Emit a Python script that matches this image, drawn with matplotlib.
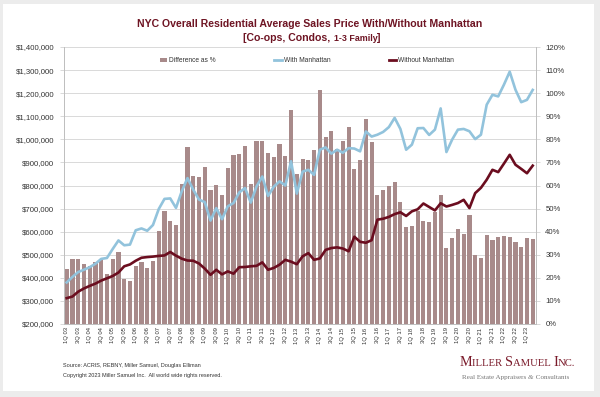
import matplotlib
matplotlib.use('Agg')
import matplotlib.pyplot as plt
import numpy as np
from matplotlib.patches import Rectangle, Patch
from matplotlib.lines import Line2D
from matplotlib.ticker import FuncFormatter, MultipleLocator

plt.rcParams['font.family'] = ['Liberation Sans', 'DejaVu Sans']

# ---------------- data ----------------
quarters = [f"{q}Q {y:02d}" for y in range(3, 24) for q in (1, 2, 3, 4)][:82]
tick_labels = quarters[::2]

diff_pct = [23.8, 28.2, 28.2, 26.0, 25.3, 26.7, 28.2, 21.8, 28.2, 31.3,
            19.5, 18.5, 25.3, 27.0, 24.3, 27.1, 40.4, 49.1, 44.8, 42.7,
            60.8, 76.5, 64.0, 63.5, 68.0, 57.9, 60.2, 56.0, 67.6, 73.1,
            73.8, 77.0, 60.8, 79.1, 79.1, 74.1, 72.2, 78.0, 72.6, 92.9,
            65.1, 71.6, 70.9, 75.5, 101.5, 81.0, 83.5, 75.8, 79.1, 85.5,
            67.3, 70.9, 88.8, 78.8, 55.7, 57.9, 59.6, 61.5, 52.9, 41.9,
            42.3, 49.1, 44.8, 44.0, 48.4, 56.0, 32.8, 37.3, 41.2, 39.1,
            47.1, 29.9, 28.4, 38.7, 36.5, 37.8, 38.0, 37.8, 35.4, 33.4,
            37.1, 36.7]

with_manhattan = [380, 404, 425, 435, 446, 461, 482, 486, 525, 562,
                  541, 544, 606, 614, 604, 629, 698, 742, 744, 703,
                  775, 832, 782, 739, 728, 648, 702, 654, 710, 724,
                  770, 789, 726, 796, 839, 755, 795, 818, 800, 905,
                  765, 860, 868, 846, 955, 965, 938, 955, 942, 962,
                  960, 948, 1034, 1012, 1020, 1032, 1053, 1093, 1045, 955,
                  977, 1048, 1049, 1019, 1042, 1134, 945, 999, 1042, 1045,
                  1035, 1001, 1020, 1150, 1193, 1186, 1237, 1293, 1215, 1161,
                  1171, 1214]

without_manhattan = [312, 319, 340, 354, 365, 375, 388, 398, 408, 423,
                     450, 458, 474, 487, 490, 492, 495, 497, 512, 496,
                     483, 475, 474, 462, 440, 413, 435, 415, 428, 418,
                     446, 447, 450, 452, 467, 435, 443, 457, 478, 470,
                     459, 493, 507, 478, 484, 521, 529, 532, 527, 515,
                     578, 556, 552, 563, 652, 656, 664, 676, 684, 668,
                     688, 697, 722, 707, 692, 723, 709, 716, 724, 738,
                     702, 767, 790, 825, 868, 858, 895, 933, 890, 872,
                     853, 886]

with_vals = [v * 1000 for v in with_manhattan]
without_vals = [v * 1000 for v in without_manhattan]

# ---------------- figure ----------------
W, H = 600, 397
fig = plt.figure(figsize=(W / 100, H / 100), dpi=100, facecolor='#ececec')
fig.patches.append(Rectangle((3 / W, 6 / H), 591 / W, 387 / H, transform=fig.transFigure,
                             facecolor='white', edgecolor='none', zorder=-5))

L, R, T, B = 63.8, 535.6, 47, 324
ax = fig.add_axes([L / W, (H - B) / H, (R - L) / W, (B - T) / H])
x = np.arange(len(quarters))

bar_color = '#a88a8a'
blue = '#92c3dc'
dark = '#6b0d1f'
grid_c = '#d9d9d9'
txt_c = '#333333'

ax.bar(x, diff_pct, width=0.72, color=bar_color, zorder=2)
ax.set_xlim(-0.5, len(quarters) - 0.5)
ax.set_ylim(0, 120)
ax.yaxis.set_major_locator(MultipleLocator(10))
ax.yaxis.set_major_formatter(FuncFormatter(lambda v, p: f"{v:.0f}%"))
ax.grid(axis='y', color=grid_c, lw=0.7)
ax.set_axisbelow(True)
ax.set_xticks(x[::2])
ax.set_xticklabels(tick_labels, rotation=90, fontsize=4.2, color=txt_c)
ax.tick_params(axis='x', length=0, pad=2.5)

ax2 = ax.twinx()
ax2.plot(x, with_vals, color=blue, lw=1.9, solid_joinstyle='round', zorder=3)
ax2.plot(x, without_vals, color=dark, lw=1.9, solid_joinstyle='round', zorder=4)
ax2.set_ylim(200000, 1400000)
ax2.yaxis.set_major_locator(MultipleLocator(100000))
ax2.yaxis.set_major_formatter(FuncFormatter(lambda v, p: f"${v:,.0f}"))

# percent axis on the right, dollar axis on the left
ax.yaxis.tick_right()
ax.yaxis.set_label_position('right')
ax2.yaxis.tick_left()
ax2.yaxis.set_label_position('left')
for a in (ax, ax2):
    a.tick_params(axis='y', labelsize=5.6, colors=grid_c, labelcolor=txt_c, length=3, width=0.7, pad=4)
ax.tick_params(axis='y', left=False, labelleft=False, right=True, labelright=True)
ax2.tick_params(axis='y', right=False, labelright=False, left=True, labelleft=True)

for a in (ax, ax2):
    a.spines['top'].set_visible(False)
    for s in ('left', 'right', 'bottom'):
        a.spines[s].set_color('#bfbfbf')
        a.spines[s].set_linewidth(0.7)

handles = [Patch(facecolor=bar_color, edgecolor='none'),
           Line2D([], [], color=blue, lw=2),
           Line2D([], [], color=dark, lw=2)]
labels = ['Difference as %', 'With Manhattan', 'Without Manhattan']
ax2.legend(handles, labels, loc='center', bbox_to_anchor=((307 - L) / (R - L), (B - 60.5) / (B - T)),
           ncol=3, frameon=False, fontsize=4.8, handlelength=1.1, handleheight=0.5,
           handletextpad=0.3, columnspacing=8.8, labelcolor=txt_c)

# ---------------- texts ----------------
renderer = fig.canvas.get_renderer()


def chain(pieces, xc, ytop, ha='center'):
    texts = []
    cur = 0.0
    for s, kw in pieces:
        t = fig.text(cur / W, (H - ytop) / H, s, ha='left', va='baseline', **kw)
        bb = t.get_window_extent(renderer)
        cur += bb.width
        texts.append(t)
    if ha == 'center':
        off = xc - cur / 2
    else:
        off = xc
    for t in texts:
        px, py = t.get_position()
        t.set_x(px + off / W)
    return texts


title_c = '#6e1423'
chain([("NYC Overall Residential Average Sales Price With/Without Manhattan",
        dict(fontsize=7.6, fontweight='bold', color=title_c))], 310, 27)
chain([("[Co-ops, Condos, ", dict(fontsize=7.6, fontweight='bold', color=title_c)),
       ("1-3 Family", dict(fontsize=6.4, fontweight='bold', color=title_c)),
       ("]", dict(fontsize=7.6, fontweight='bold', color=title_c))], 312, 41)

fig.text(63 / W, (H - 366) / H, "Source: ACRIS, REBNY, Miller Samuel, Douglas Elliman",
         fontsize=4.0, color=txt_c, va='center', ha='left')
fig.text(63 / W, (H - 376) / H, "Copyright 2023 Miller Samuel Inc.  All world wide rights reserved.",
         fontsize=4.0, color=txt_c, va='center', ha='left')

logo_c = '#7a1a2a'
big = dict(fontsize=10.2, color=logo_c, family='Liberation Serif')
small = dict(fontsize=7.7, color=logo_c, family='Liberation Serif')
chain([("M", big), ("ILLER ", small), ("S", big), ("AMUEL ", small), ("I", big), ("NC.", small)],
      517.5, 366)
serif_g = dict(fontsize=5.1, color='#777777', family='Liberation Serif')
chain([("Real Estate Appraisers ", serif_g),
       ("&", dict(fontsize=5.1, color='#777777', family='Liberation Serif', style='italic')),
       (" Consultants", serif_g)], 515.5, 379)

fig.savefig('out.png', dpi=100, facecolor=fig.get_facecolor())
